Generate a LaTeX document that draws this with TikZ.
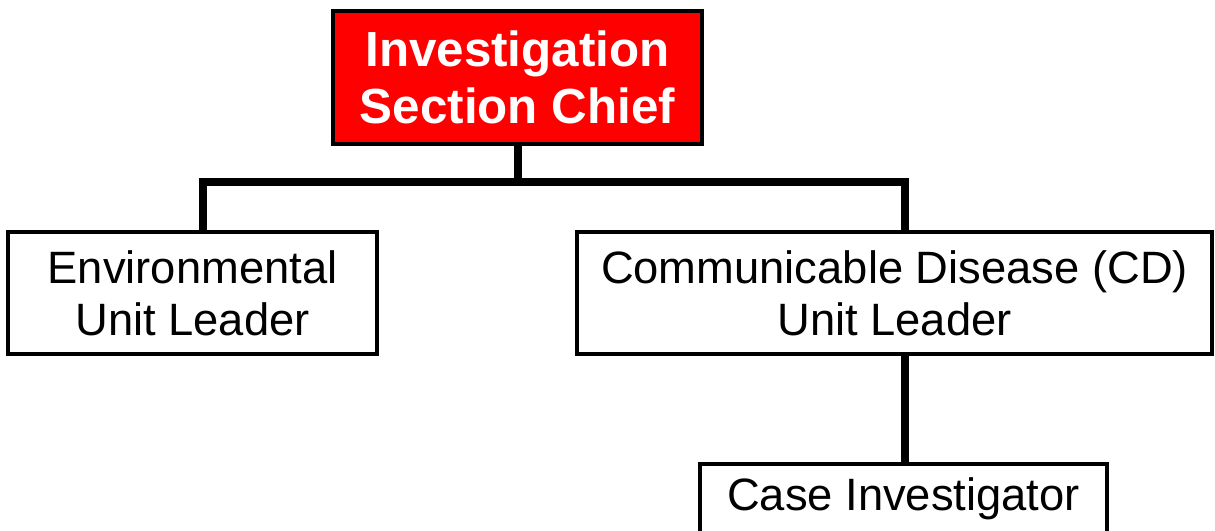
\documentclass[tikz,border=0pt]{standalone}
\usepackage{fontspec}
\setmainfont{Liberation Sans}
\begin{document}
\begin{tikzpicture}[x=0.75pt,y=-0.75pt,
  unitbox/.style={draw=black, line width=3pt, fill=white, inner sep=0pt,
    align=center, font=\fontsize{34}{39}\selectfont},
  chiefbox/.style={unitbox, fill=red, text=white,
    font=\fontsize{37}{43}\bfseries\selectfont},
  link/.style={draw=black, line width=6pt}]
\useasboundingbox (0,0) rectangle (1215,531);

% boxes
\node[chiefbox, minimum width=276.75pt, minimum height=99.75pt] (chief) at (517.5,77.5)
  {Investigation\\Section Chief};
\node[unitbox, minimum width=276.75pt, minimum height=91.5pt] (env) at (192.5,293)
  {Environmental\\Unit Leader};
\node[unitbox, minimum width=476.25pt, minimum height=91.5pt] (cd) at (894.5,293)
  {Communicable Disease (CD)\\Unit Leader};
\node[unitbox, minimum width=305.25pt, minimum height=52.5pt] (case) at (903.5,499)
  {Case Investigator};

% junction points on the bus line
\coordinate (lj) at (203,182);
\coordinate (rj) at (905,182);

% connectors
\path[link] (chief.south) -- (chief.south |- lj);
\path[link] (lj |- env.north) -- (lj) -- (rj) -- (rj |- cd.north);
\path[link] (cd.south -| rj) -- (case.north -| rj);
\end{tikzpicture}
\end{document}
